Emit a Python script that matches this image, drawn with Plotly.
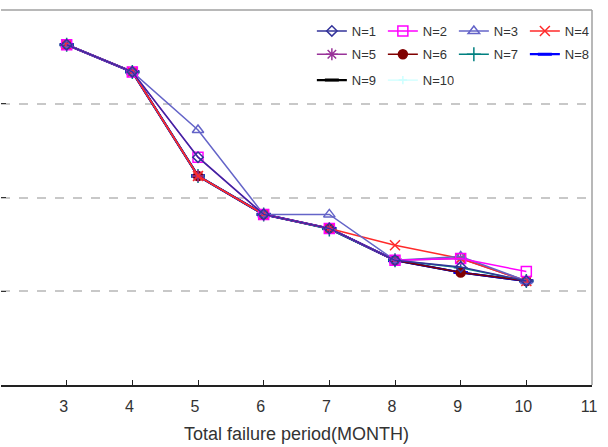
import plotly.graph_objects as go

months = [3, 4, 5, 6, 7, 8, 9, 10]
n1 = [3.63, 3.34, 2.43, 1.82, 1.67, 1.33, 1.26, 1.11]
n2 = [3.63, 3.34, 2.43, 1.82, 1.67, 1.33, 1.35, 1.21]
n3 = [3.63, 3.34, 2.72, 1.82, 1.82, 1.33, 1.37, 1.11]
n4 = [3.63, 3.34, 2.23, 1.82, 1.67, 1.49, 1.35, 1.11]
n5 = [3.63, 3.34, 2.23, 1.82, 1.67, 1.33, 1.35, 1.11]
n6 = [3.63, 3.34, 2.23, 1.82, 1.67, 1.33, 1.20, 1.11]
n7 = [3.63, 3.34, 2.23, 1.82, 1.66, 1.33, 1.25, 1.11]
n8 = [3.63, 3.34, 2.23, 1.82, 1.67, 1.33, 1.20, 1.11]
n9 = [3.63, 3.34, 2.23, 1.82, 1.67, 1.33, 1.20, 1.11]
n10 = [3.63, 3.34, 2.23, 1.82, 1.67, 1.33, 1.20, 1.11]
series_names = ["N=1", "N=2", "N=3", "N=4", "N=5", "N=6", "N=7", "N=8", "N=9", "N=10"]
series_values = [n1, n2, n3, n4, n5, n6, n7, n8, n9, n10]
x_ticks = [3, 4, 5, 6, 7, 8, 9, 10, 11]

styles = [
    dict(color="#33339a", symbol="diamond-open", size=8, width=1.5),
    dict(color="#ff00ff", symbol="square-open", size=10, width=1.5),
    dict(color="#6464c8", symbol="triangle-up-open", size=10, width=1.5),
    dict(color="#ff2a2a", symbol="x-thin-open", size=10, width=1.5),
    dict(color="#993399", symbol="asterisk-open", size=10, width=1.5),
    dict(color="#800000", symbol="circle", size=9, width=1.5),
    dict(color="#008080", symbol="cross-thin-open", size=10, width=1.5),
    dict(color="#0000ff", symbol="line-ew-open", size=10, width=2.2),
    dict(color="#000000", symbol="line-ew-open", size=10, width=2.2),
    dict(color="#ccffff", symbol="cross-thin-open", size=6, width=1.2),
]
legends = ["legend", "legend", "legend", "legend",
           "legend2", "legend2", "legend2", "legend2",
           "legend3", "legend3"]

fig = go.Figure()
for i in [9, 8, 7, 6, 5, 4, 3, 2, 1, 0]:
    s = styles[i]
    fig.add_trace(go.Scatter(
        x=months, y=series_values[i], name=series_names[i], mode="lines+markers",
        line=dict(color=s["color"], width=s["width"]),
        marker=dict(symbol=s["symbol"], size=s["size"], color=s["color"],
                    line=dict(color=s["color"], width=1.5 if s["symbol"] != "line-ew-open" else 3)),
        legend=legends[i], legendrank=i + 1,
    ))

leg_common = dict(orientation="h", entrywidth=26, entrywidthmode="pixels",
                  font=dict(family="Liberation Sans, Arial", size=13, color="#333"),
                  bgcolor="rgba(0,0,0,0)", borderwidth=0, x=0.526, xanchor="left",
                  yanchor="middle", traceorder="normal", itemwidth=30)

fig.update_layout(
    width=608, height=447,
    margin=dict(l=1, r=16, t=10, b=62),
    paper_bgcolor="white", plot_bgcolor="white",
    font=dict(family="Liberation Sans, Arial", color="#333"),
    showlegend=True,
    legend=dict(**leg_common, y=0.944),
    legend2=dict(**leg_common, y=0.882),
    legend3=dict(**leg_common, y=0.813),
    xaxis=dict(range=[2, 11], tickvals=x_ticks, ticks="inside", ticklen=5,
               tickcolor="#222", showline=True, linecolor="#222", linewidth=1.5,
               showgrid=False, zeroline=False, tickfont=dict(size=16, color="#333"),
               ticklabelstandoff=6, ticklabelshift=-3,
               title=dict(text="Total failure period(MONTH)", font=dict(size=18, color="#333"),
                          standoff=13),
               automargin=False),
    yaxis=dict(range=[0, 4], tickvals=[0, 1, 2, 3, 4], showticklabels=False,
               ticks="inside", ticklen=5, tickcolor="#333", showline=False,
               showgrid=True, gridcolor="#c8c8c8", griddash="dash", gridwidth=1.5,
               zeroline=False, automargin=False),
    shapes=[
        dict(type="line", xref="paper", yref="paper", x0=0, x1=1, y0=1, y1=1,
             line=dict(color="#a0a0a0", width=1.5)),
        dict(type="line", xref="paper", yref="paper", x0=1, x1=1, y0=0, y1=1,
             line=dict(color="#a0a0a0", width=1.5)),
    ],
)

fig.write_html("out.html")
